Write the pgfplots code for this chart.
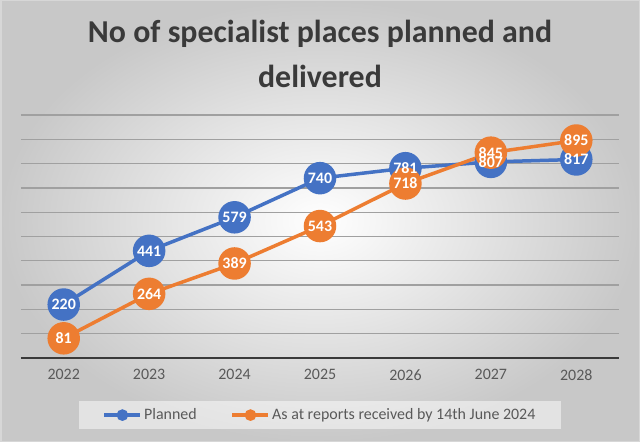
\documentclass[border=0pt]{standalone}
\usepackage{fontspec}
\setmainfont{Carlito}
\usepackage{pgfplots}
\pgfplotsset{compat=1.18}
\definecolor{cblue}{HTML}{4472C4}
\definecolor{corange}{HTML}{ED7D31}
\definecolor{ttl}{HTML}{3A3A3A}
\definecolor{tick}{HTML}{595959}
\definecolor{gridc}{HTML}{A0A0A0}
\definecolor{edge}{HTML}{C8C8C8}
\begin{document}
\begin{tikzpicture}
\shade[inner color=white, outer color=edge] (0bp,0bp) rectangle (640bp,442bp);
\draw[line width=1.5bp, color={rgb,255:red,215;green,215;blue,215}] (0.75bp,0.75bp) rectangle (639.25bp,441.25bp);
\node[font=\bfseries\fontsize{32}{38}\selectfont, text=ttl] at (320bp,408bp) {No of specialist places planned and};
\node[font=\bfseries\fontsize{32}{38}\selectfont, text=ttl] at (320bp,366bp) {delivered};
\begin{axis}[
  at={(21bp,84bp)}, anchor=south west,
  scale only axis, width=598bp, height=243bp,
  xmin=-0.5, xmax=6.5, ymin=0, ymax=1000,
  axis x line=bottom, axis y line=left,
  x axis line style={-, line width=2bp, color=ttl},
  y axis line style={draw=none},
  xtick={0,...,6}, xticklabels={2022,2023,2024,2025,2026,2027,2028},
  xtick style={draw=none},
  xticklabel style={font=\fontsize{16}{19}\selectfont, text=tick, yshift=-6bp},
  ytick={100,200,...,1000}, yticklabels={}, ytick style={draw=none},
  ymajorgrids, grid style={line width=1.3bp, color=gridc},
  /pgf/number format/assume math mode=true,
  clip=false,
  legend style={at={(0.5,-0.235)}, anchor=center, legend columns=2, draw=none,
    fill=white, fill opacity=0.5, text opacity=1, inner xsep=24bp, inner ysep=6bp,
    font=\fontsize{16}{19}\selectfont, text=tick,
    /tikz/every even column/.append style={column sep=32bp}},
  legend image code/.code={\draw[line width=3.5bp] (0bp,0bp) -- (36bp,0bp); \fill (18bp,0bp) circle (4bp);},
]
\addplot[cblue, line width=3.5bp, mark=*, mark size=14.5bp, mark options={solid, fill=cblue, draw=cblue}] coordinates {(0,220) (1,441) (2,579) (3,740) (4,781) (5,807) (6,817)};
\addlegendentry{Planned}
\addplot[corange, line width=3.5bp, mark=*, mark size=14.5bp, mark options={solid, fill=corange, draw=corange}] coordinates {(0,81) (1,264) (2,389) (3,543) (4,718) (5,845) (6,895)};
\addlegendentry{As at reports received by 14th June 2024}
\addplot[forget plot, draw=none, mark=none, nodes near coords, every node near coord/.append style={anchor=center, font=\bfseries\fontsize{16}{16}\selectfont, text=white}] coordinates {(0,220) (1,441) (2,579) (3,740) (4,781) (5,807) (6,817)};
\addplot[forget plot, draw=none, mark=none, nodes near coords, every node near coord/.append style={anchor=center, font=\bfseries\fontsize{16}{16}\selectfont, text=white}] coordinates {(0,81) (1,264) (2,389) (3,543) (4,718) (5,845) (6,895)};
\end{axis}
\end{tikzpicture}
\end{document}
